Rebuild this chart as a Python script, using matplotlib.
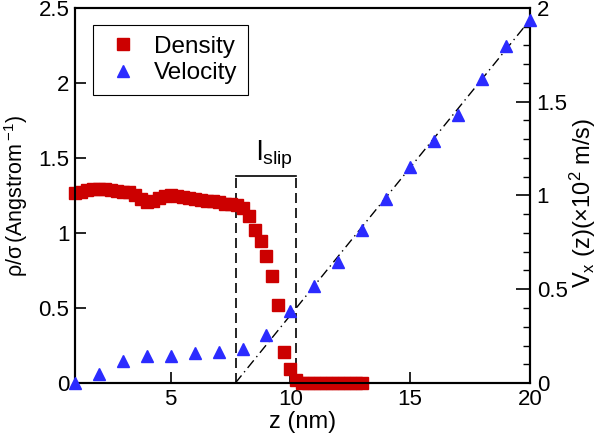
import matplotlib
matplotlib.use("Agg")
import matplotlib.pyplot as plt
from matplotlib.ticker import MultipleLocator, FormatStrFormatter


# =====================================================
# DATA
# =====================================================

# density profile (left axis), z in nm
density_z = [
    1.00, 1.25, 1.50, 1.75, 2.00, 2.25, 2.50, 2.75, 3.00, 3.25,
    3.50, 3.75, 4.00, 4.25, 4.50, 4.75, 5.00, 5.25, 5.50, 5.75,
    6.00, 6.25, 6.50, 6.75, 7.00, 7.25, 7.50, 7.75, 8.00, 8.25,
    8.50, 8.75, 9.00, 9.25, 9.50, 9.75, 10.00, 10.25, 10.50, 10.75,
    11.00, 11.25, 11.50, 11.75, 12.00, 12.25, 12.50, 12.75, 13.00,
]
density_val = [
    1.265, 1.275, 1.285, 1.290, 1.295, 1.290, 1.285, 1.280, 1.275, 1.270,
    1.255, 1.225, 1.205, 1.215, 1.230, 1.245, 1.250, 1.245, 1.240, 1.235,
    1.225, 1.220, 1.215, 1.210, 1.205, 1.195, 1.190, 1.185, 1.165, 1.110,
    1.017, 0.944, 0.849, 0.711, 0.518, 0.204, 0.093, 0.020, 0.0, 0.0,
    0.0, 0.0, 0.0, 0.0, 0.0, 0.0, 0.0, 0.0, 0.0,
]

# velocity profile (right axis, x10^2 m/s)
velocity_z = [1, 2, 3, 4, 5, 6, 7, 8, 9, 10,
              11, 12, 13, 14, 15, 16, 17, 18, 19, 20]
velocity_val = [0.0, 0.05, 0.12, 0.142, 0.142, 0.16, 0.165, 0.18, 0.254, 0.382,
                0.515, 0.645, 0.818, 0.983, 1.152, 1.289, 1.431, 1.623, 1.795, 1.938]

# linear fit of the velocity in the liquid
fit_z = [7.70, 20.0]
fit_v = [0.0, 1.935]

# slip length bracket
slip_start = 7.72
slip_end = 10.23
bracket_height = 1.377

RED = "#cc0000"
BLUE = "#2b2bff"


# =====================================================
# STYLE
# =====================================================

plt.rcParams["font.family"] = ["Liberation Sans", "DejaVu Sans"]
plt.rcParams["mathtext.fontset"] = "custom"
plt.rcParams["mathtext.rm"] = "Liberation Sans"
plt.rcParams["mathtext.it"] = "Liberation Sans:italic"
plt.rcParams["axes.linewidth"] = 1.5

TICK_FS = 16
LABEL_FS = 17
LEGEND_FS = 17.5


# =====================================================
# FIGURE
# =====================================================

fig = plt.figure(figsize=(6.0, 4.41), dpi=100)
ax = fig.add_axes([0.125, 0.1315, 0.883 - 0.125, 0.982 - 0.1315])
ax2 = ax.twinx()

# bracket for slip length
ax.plot([slip_start, slip_start], [0, bracket_height], color="black",
        lw=1.2, linestyle=(0, (6, 3)))
ax.plot([slip_end, slip_end], [0, bracket_height], color="black",
        lw=1.2, linestyle=(0, (6, 3)))
ax.plot([slip_start, slip_end], [bracket_height, bracket_height],
        color="black", lw=1.2)
ax.text(9.33, bracket_height + 0.035,
        r"$\mathregular{l_{slip}}$", ha="center", va="bottom",
        fontsize=20)

h1, = ax.plot(density_z, density_val, linestyle="none", marker="s",
              markersize=8.3, color=RED, clip_on=False, zorder=3,
              label="Density")

ax2.plot(fit_z, fit_v, color="black", lw=1.0,
         linestyle=(0, (7, 3, 1, 3)))
h2, = ax2.plot(velocity_z, velocity_val, linestyle="none", marker="^",
               markersize=8.5, color=BLUE, clip_on=False, zorder=4,
               label="Velocity")

ax.set_xlim(1, 20)
ax.set_ylim(0, 2.5)
ax2.set_ylim(0, 2)

ax.xaxis.set_major_locator(MultipleLocator(5))
ax.yaxis.set_major_locator(MultipleLocator(0.5))
ax2.yaxis.set_major_locator(MultipleLocator(0.5))
ax2.yaxis.set_minor_locator(MultipleLocator(0.1))
ax.yaxis.set_major_formatter(FormatStrFormatter("%g"))
ax2.yaxis.set_major_formatter(FormatStrFormatter("%g"))

ax.tick_params(axis="both", which="major", direction="in", length=8,
               width=1.2, labelsize=TICK_FS, top=False, right=False, pad=4)
ax2.tick_params(axis="y", which="major", direction="in", length=10,
                width=1.2, labelsize=TICK_FS, pad=5)
ax2.tick_params(axis="y", which="minor", direction="in", length=5,
                width=1.0)

ax.set_xlabel("z (nm)", fontsize=LABEL_FS, labelpad=1)
ax.set_ylabel(r"$\mathregular{\rho/\sigma\,(Angstrom\,^{-1})}$",
              fontsize=15.5)
ax.yaxis.set_label_coords(-0.10, 0.5)
ax2.set_ylabel(r"$\mathregular{V_x\ (z)(\times10^2\ m/s)}$",
               fontsize=LABEL_FS, rotation=90)
ax2.yaxis.set_label_coords(1.083, 0.48)

leg = ax2.legend([h1, h2], ["Density", "Velocity"], loc="upper left",
                 bbox_to_anchor=(0.0396, 0.9555), fontsize=LEGEND_FS,
                 fancybox=False, edgecolor="black", framealpha=1,
                 borderpad=0.45, handletextpad=0.45, labelspacing=0.2,
                 handlelength=1.6, borderaxespad=0)
leg.get_frame().set_linewidth(0.8)

fig.savefig("out.png", dpi=100)
